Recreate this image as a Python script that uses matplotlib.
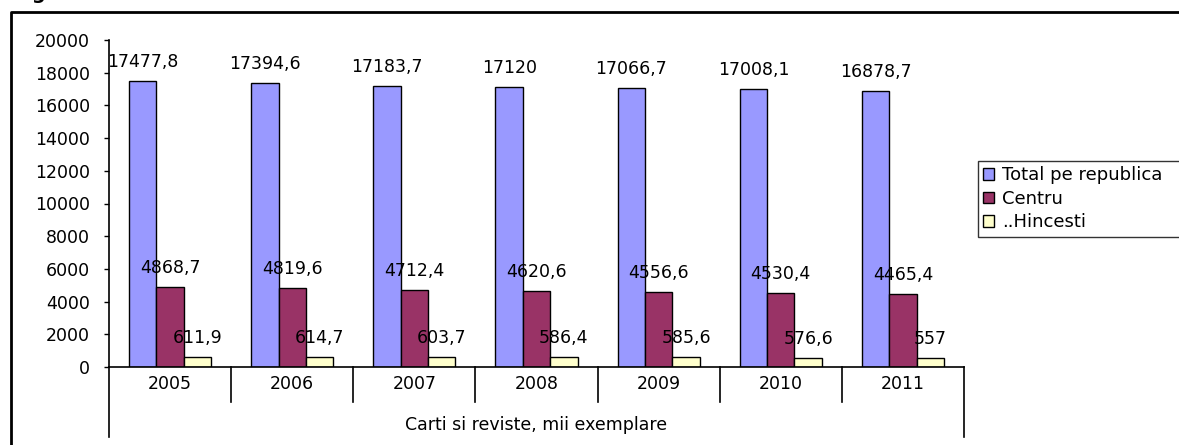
import matplotlib
matplotlib.use("Agg")
import matplotlib.pyplot as plt
import matplotlib.transforms as mtransforms
from matplotlib.lines import Line2D
import numpy as np

plt.rcParams['font.family'] = ['DejaVu Sans']

years = ["2005", "2006", "2007", "2008", "2009", "2010", "2011"]
total = [17477.8, 17394.6, 17183.7, 17120, 17066.7, 17008.1, 16878.7]
centru = [4868.7, 4819.6, 4712.4, 4620.6, 4556.6, 4530.4, 4465.4]
hincesti = [611.9, 614.7, 603.7, 586.4, 585.6, 576.6, 557]
series_names = ["Total pe republica", "Centru", "..Hincesti"]
colors = ["#9999FF", "#993366", "#FFFFCC"]
group_label = "Carti si reviste, mii exemplare"

W, H = 1179, 445
fig = plt.figure(figsize=(W / 100, H / 100), dpi=100)
ax = fig.add_axes([109 / W, (H - 367) / H, (964 - 109) / W, (367 - 40) / H])

x = np.arange(len(years))
w = 0.224
fs = 12.5

for i, (vals, name, col) in enumerate(zip([total, centru, hincesti], series_names, colors)):
    pos = x + (i - 1) * w
    ax.bar(pos, vals, width=w, color=col, edgecolor="black", linewidth=1.0, label=name, zorder=2)
    for px, v in zip(pos, vals):
        lbl = ("%g" % v).replace(".", ",")
        ax.annotate(lbl, (px, v), xytext=(0, 19), textcoords="offset pixels",
                    ha="center", va="center", fontsize=fs, zorder=3)

ax.set_xlim(-0.5, len(years) - 0.5)
ax.set_ylim(0, 20000)
ax.set_yticks(np.arange(0, 20001, 2000))
ax.tick_params(axis="y", direction="out", length=3.6, width=1, pad=10, labelsize=fs)
ax.set_xticks([])
for s in ["top", "right"]:
    ax.spines[s].set_visible(False)
ax.spines["left"].set_linewidth(1.2)
ax.spines["bottom"].set_linewidth(1.2)

# category axis below
trans = mtransforms.blended_transform_factory(ax.transData, ax.transAxes)
for k in range(1, len(years)):
    ax.add_line(Line2D([k - 0.5, k - 0.5], [0, -0.107], transform=trans, color="black",
                       lw=1.2, clip_on=False))
for xe in [-0.5, len(years) - 0.5]:
    ax.add_line(Line2D([xe, xe], [0, -0.214], transform=trans, color="black",
                       lw=1.2, clip_on=False))
for k, yr in enumerate(years):
    ax.text(k, -0.052, yr, transform=trans, ha="center", va="center", fontsize=fs)
ax.text((len(years) - 1) / 2, -0.177, group_label, transform=trans, ha="center",
        va="center", fontsize=fs)

# legend box runs past the right edge like in the original
leg = fig.legend(loc="upper left", bbox_to_anchor=(978 / W, 1 - 242 / H, 260 / W, 81 / H),
                 mode="expand", borderaxespad=0, fontsize=13,
                 frameon=True, fancybox=False, edgecolor="black", handlelength=0.6,
                 handleheight=0.6, handletextpad=0.45, labelspacing=0.3, borderpad=0.3)
leg.get_frame().set_linewidth(1.0)

# outer frame (clipped)
fig.add_artist(Line2D([11 / W, 11 / W, 1.0], [0, 1 - 12 / H, 1 - 12 / H],
                      transform=fig.transFigure, color="black", lw=2))

# clipped title at top
fig.text(12 / W, 1 + 1 / H, "Figura", fontsize=14, fontweight="bold", va="baseline")

fig.savefig("out.png", dpi=100)
